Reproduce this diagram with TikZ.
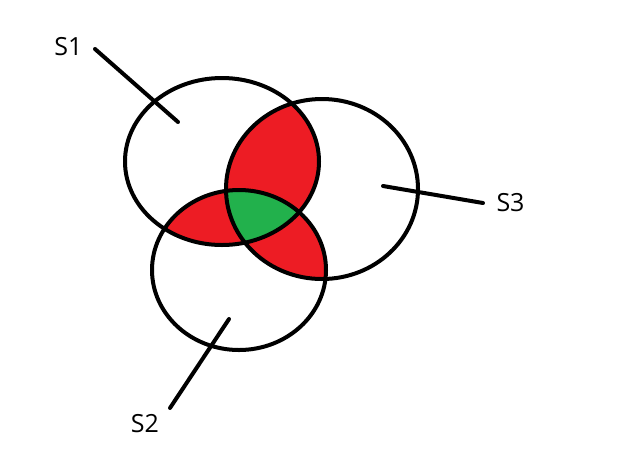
\documentclass[tikz,border=0pt]{standalone}
\usepackage{fontspec}
\setmainfont{Open Sans}
\definecolor{vred}{HTML}{ED1C24}
\definecolor{vgreen}{HTML}{22B14C}
\begin{document}
\begin{tikzpicture}[x=1pt,y=-1pt,line width=4pt,
  lbl/.style={font=\fontsize{25}{28}\selectfont, inner sep=0pt},
  leader/.style={line width=4pt, line cap=round}]
\useasboundingbox (0,0) rectangle (620,459);
\def\eA{(222,161.5) ellipse [x radius=97pt, y radius=83.5pt]}
\def\eB{(239,270) ellipse [x radius=87pt, y radius=80pt]}
\def\eC{(322,189) ellipse [x radius=96pt, y radius=90pt]}
% pairwise intersections red
\begin{scope}\clip \eA; \fill[vred] \eC; \end{scope}
\begin{scope}\clip \eA; \fill[vred] \eB; \end{scope}
\begin{scope}\clip \eB; \fill[vred] \eC; \end{scope}
% triple intersection green
\begin{scope}\clip \eA; \clip \eB; \fill[vgreen] \eC; \end{scope}
% outlines
\draw \eA; \draw \eB; \draw \eC;
% labels
\node[lbl] (s1) at (68.5,46.5) {S1};
\node[lbl] (s2) at (145,424) {S2};
\node[lbl] (s3) at (510.5,203) {S3};
\coordinate (s1a) at (95,49);
\coordinate (s1b) at (178,122);
\coordinate (s2a) at (170,408);
\coordinate (s2b) at (229,319);
\coordinate (s3a) at (483,203);
\coordinate (s3b) at (383,186);
\draw[leader] (s1a) -- (s1b);
\draw[leader] (s2a) -- (s2b);
\draw[leader] (s3a) -- (s3b);
\end{tikzpicture}
\end{document}
